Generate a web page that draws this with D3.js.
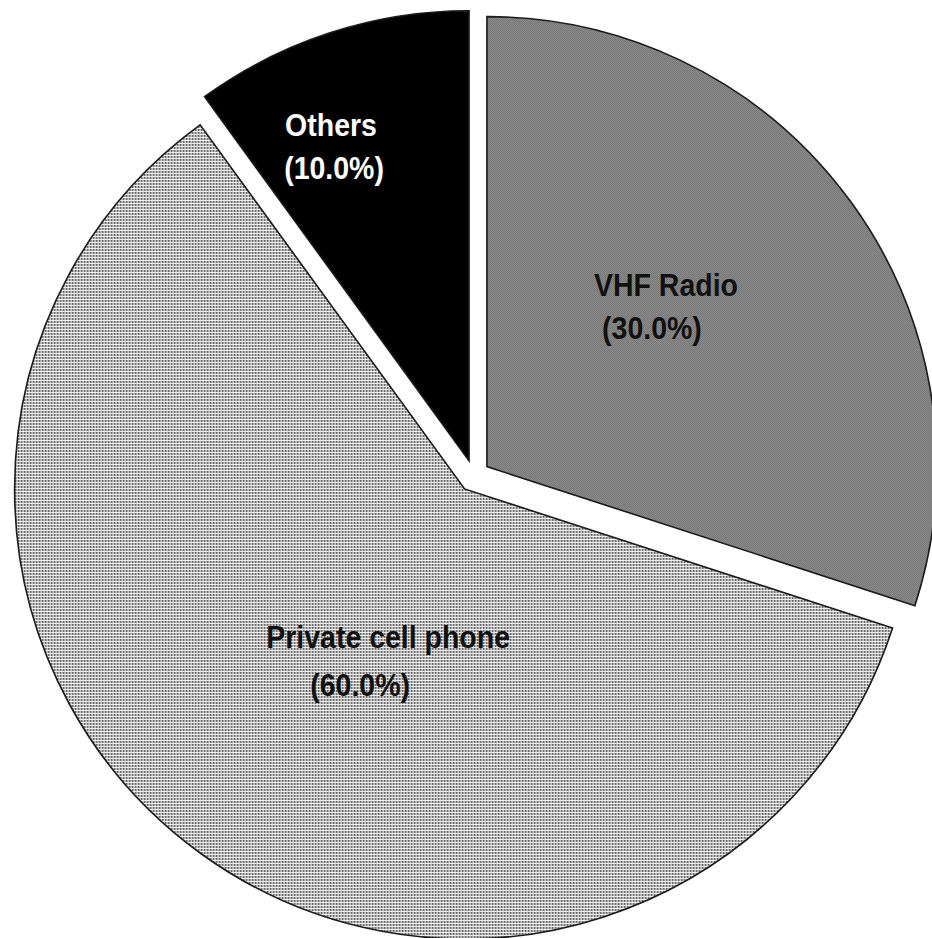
<!DOCTYPE html>
<html>
<head>
<meta charset="utf-8">
<script src="https://cdn.jsdelivr.net/npm/d3@7"></script>
<style>
  html, body { margin: 0; padding: 0; background: #fff; }
  svg { display: block; }
</style>
</head>
<body>
<svg id="chart" width="932" height="938"></svg>
<script>
// ---- data ----
const categories = ["VHF Radio", "Private cell phone", "Others"];
const values = [30.0, 60.0, 10.0];
const percentLabels = ["(30.0%)", "(60.0%)", "(10.0%)"];

// ---- layout / style ----
const W = 932, H = 938;
const cx = 474, cy = 476, R = 450, explode = 16;
const fills = ["url(#patVHF)", "url(#patCell)", "#000000"];
const textColors = ["#111", "#111", "#fff"];
// label placement relative to each slice's apex: [angle (deg, clockwise from top), distance]
const labelPolar = [[47.2, 244], [205.0, 181], [336.7, 349]];
const line2Shift = [-14, -28, 3];
const line2Gap = [34, 38, 34];

const svg = d3.select("#chart");
const defs = svg.append("defs");

// dense checkerboard for VHF
const p1 = defs.append("pattern").attr("id", "patVHF").attr("patternUnits", "userSpaceOnUse")
  .attr("width", 2).attr("height", 2);
p1.append("rect").attr("width", 2).attr("height", 2).attr("fill", "#b8b8b8");
p1.append("rect").attr("width", 1).attr("height", 1).attr("fill", "#4a4a4a");
p1.append("rect").attr("x", 1).attr("y", 1).attr("width", 1).attr("height", 1).attr("fill", "#4a4a4a");

// dotted grid for cell phone
const p2 = defs.append("pattern").attr("id", "patCell").attr("patternUnits", "userSpaceOnUse")
  .attr("width", 3).attr("height", 3);
p2.append("rect").attr("width", 3).attr("height", 3).attr("fill", "#f4f4f4");
p2.append("rect").attr("width", 2).attr("height", 2).attr("fill", "#6a6a6a");

const blur = defs.append("filter").attr("id", "soft").attr("x", "-5%").attr("y", "-5%")
  .attr("width", "110%").attr("height", "110%");
blur.append("feGaussianBlur").attr("stdDeviation", 0.6);

const pie = d3.pie().sort(null).value(d => d)(values);
const arc = d3.arc().innerRadius(0).outerRadius(R);

const g = svg.append("g");
pie.forEach((p, i) => {
  const mid = (p.startAngle + p.endAngle) / 2;
  const ox = cx + explode * Math.sin(mid);
  const oy = cy - explode * Math.cos(mid);
  const sg = g.append("g").attr("transform", `translate(${ox},${oy})`);
  sg.append("path")
    .attr("d", arc(p))
    .attr("fill", fills[i])
    .attr("stroke", "#1a1a1a")
    .attr("stroke-width", 1.6)
    .attr("stroke-linejoin", "miter")
    .attr("filter", "url(#soft)");

  const [aDeg, dist] = labelPolar[i];
  const a = aDeg * Math.PI / 180;
  const lx = ox + dist * Math.sin(a);
  const ly = oy - dist * Math.cos(a);
  const t = svg.append("g").attr("transform", `translate(${lx},${ly}) scale(1,1.13)`);
  t.append("text")
    .attr("x", 0).attr("y", -4)
    .attr("text-anchor", "middle")
    .attr("font-family", "'Liberation Sans', Arial, sans-serif")
    .attr("font-weight", "bold")
    .attr("font-size", 28.5)
    .attr("fill", textColors[i])
    .text(categories[i]);
  t.append("text")
    .attr("x", line2Shift[i]).attr("y", -4 + line2Gap[i] + 4)
    .attr("text-anchor", "middle")
    .attr("font-family", "'Liberation Sans', Arial, sans-serif")
    .attr("font-weight", "bold")
    .attr("font-size", 28.5)
    .attr("fill", textColors[i])
    .text(percentLabels[i]);
});
</script>
</body>
</html>
